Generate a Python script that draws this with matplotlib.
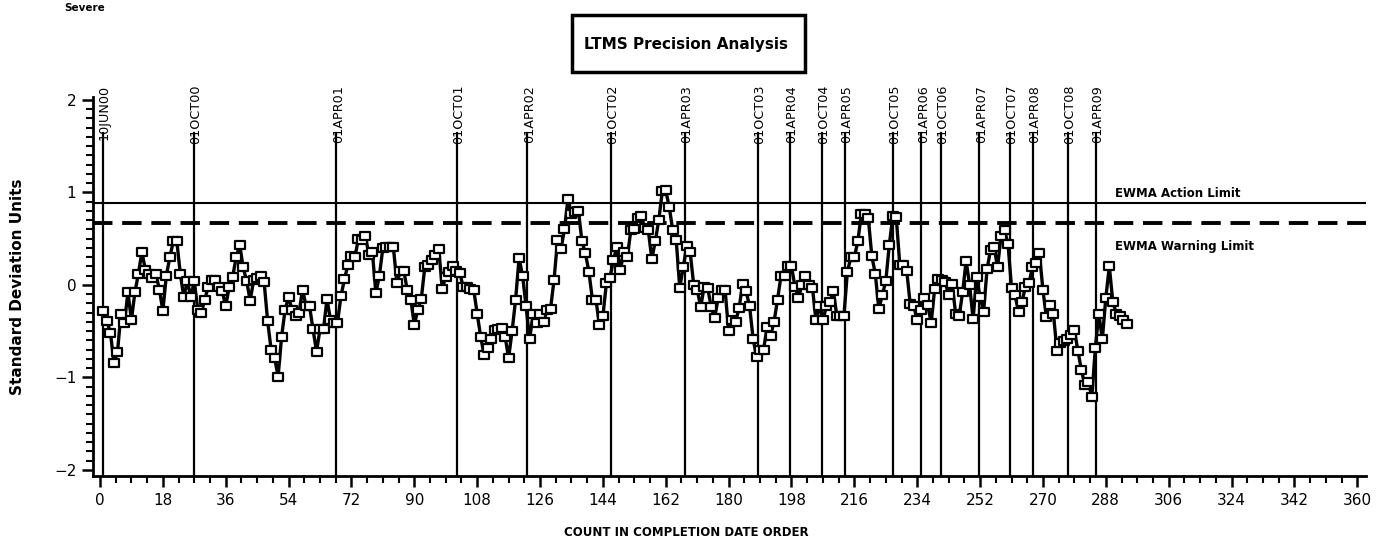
import matplotlib
matplotlib.use("Agg")
import matplotlib.pyplot as plt
from matplotlib.patches import Rectangle
from matplotlib.path import Path
import numpy as np

# ---------------- data ----------------
ewma = [
    -0.28, -0.39, -0.52, -0.84, -0.73, -0.31, -0.41, -0.08, -0.38, -0.08,
    0.12, 0.36, 0.16, 0.12, 0.07, 0.12, -0.05, -0.28, 0.10, 0.30,
    0.47, 0.47, 0.12, -0.13, 0.04, -0.13, 0.04, -0.27, -0.30, -0.16,
    -0.02, 0.05, 0.05, -0.02, -0.07, -0.23, -0.02, 0.09, 0.30, 0.43,
    0.19, 0.04, -0.17, 0.05, 0.07, 0.10, 0.03, -0.39, -0.70, -0.79,
    -0.99, -0.56, -0.27, -0.13, -0.27, -0.34, -0.30, -0.05, -0.23, -0.23,
    -0.48, -0.72, -0.48, -0.48, -0.15, -0.38, -0.41, -0.41, -0.12, 0.06,
    0.22, 0.31, 0.30, 0.50, 0.49, 0.53, 0.32, 0.35, -0.09, 0.10,
    0.40, 0.41, 0.41, 0.41, 0.02, 0.15, 0.15, -0.06, -0.16, -0.43,
    -0.27, -0.15, 0.19, 0.22, 0.27, 0.32, 0.39, -0.04, 0.09, 0.14,
    0.20, 0.15, 0.13, -0.02, -0.02, -0.04, -0.05, -0.31, -0.56, -0.76,
    -0.68, -0.58, -0.49, -0.48, -0.47, -0.56, -0.79, -0.50, -0.16, 0.29,
    0.10, -0.23, -0.59, -0.32, -0.41, -0.31, -0.40, -0.27, -0.26, 0.05,
    0.48, 0.39, 0.60, 0.93, 0.77, 0.79, 0.80, 0.47, 0.34, 0.14,
    -0.16, -0.16, -0.43, -0.34, 0.02, 0.07, 0.27, 0.41, 0.16, 0.36,
    0.30, 0.59, 0.60, 0.72, 0.74, 0.61, 0.59, 0.28, 0.47, 0.70,
    1.01, 1.02, 0.84, 0.59, 0.48, -0.03, 0.19, 0.42, 0.35, 0.00,
    -0.05, -0.24, -0.02, -0.03, -0.24, -0.36, -0.14, -0.06, -0.06, -0.50,
    -0.38, -0.40, -0.25, 0.01, -0.07, -0.23, -0.58, -0.78, -0.70, -0.70,
    -0.46, -0.55, -0.40, -0.16, 0.10, 0.10, 0.20, 0.20, -0.02, -0.14,
    0.00, 0.10, 0.00, -0.03, -0.38, -0.23, -0.38, -0.23, -0.18, -0.07,
    -0.34, -0.34, -0.34, 0.14, 0.30, 0.30, 0.47, 0.77, 0.77, 0.72,
    0.31, 0.12, -0.26, -0.11, 0.04, 0.43, 0.74, 0.73, 0.22, 0.21,
    0.15, -0.21, -0.23, -0.38, -0.27, -0.14, -0.22, -0.41, -0.04, 0.06,
    0.05, 0.03, -0.11, 0.01, -0.31, -0.34, -0.08, 0.26, 0.00, -0.37,
    0.08, -0.13, -0.29, 0.17, 0.38, 0.41, 0.19, 0.53, 0.59, 0.44,
    -0.03, -0.11, -0.29, -0.18, -0.02, 0.02, 0.19, 0.24, 0.34, -0.06,
    -0.35, -0.22, -0.31, -0.71, -0.63, -0.61, -0.58, -0.54, -0.49, -0.71,
    -0.92, -1.08, -1.05, -1.21, -0.68, -0.31, -0.59, -0.14, 0.20, -0.18,
    -0.31, -0.34, -0.38, -0.42,
]
counts = list(range(1, len(ewma) + 1))

date_labels = ["10JUN00", "01OCT00", "01APR01", "01OCT01", "01APR02", "01OCT02",
               "01APR03", "01OCT03", "01APR04", "01OCT04", "01APR05", "01OCT05",
               "01APR06", "01OCT06", "01APR07", "01OCT07", "01APR08", "01OCT08",
               "01APR09"]
date_counts = [0.8, 26.8, 67.7, 102.1, 122.4, 146.2, 167.4, 188.5, 197.5, 206.7,
               213.3, 227.0, 235.2, 240.7, 251.8, 260.6, 267.2, 277.1, 285.1]

action_limit = 0.883
warning_limit = 0.674
x_ticks = list(range(0, 361, 18))
y_ticks = [-2, -1, 0, 1, 2]
y_tick_labels = ["\u22122", "\u22121", "0", "1", "2"]

# ---------------- style ----------------
plt.rcParams["font.family"] = ["DejaVu Sans"]
plt.rcParams["lines.scale_dashes"] = False

rect_marker = Path([(-1.3, -1.0), (1.3, -1.0), (1.3, 1.0), (-1.3, 1.0), (-1.3, -1.0)],
                   [Path.MOVETO, Path.LINETO, Path.LINETO, Path.LINETO, Path.CLOSEPOLY])

fig = plt.figure(figsize=(13.76, 5.5), dpi=100)
ax = fig.add_axes([93 / 1376, 1 - 476 / 550, (1366 - 93) / 1376, (476 - 97) / 550])

ax.set_xlim(-2.0, 362.5)
ax.set_ylim(-2.065, 2.03)

# reference (date) lines
for c, lab in zip(date_counts, date_labels):
    ax.plot([c, c], [-2.065, 1.64], color="black", lw=1.6, zorder=1, clip_on=False)
    ax.text(c + 0.5, 2.16, lab, rotation=90, ha="center", va="top", fontsize=9.2,
            clip_on=False)

# limits
ax.axhline(action_limit, color="black", lw=1.5, zorder=1)
ax.axhline(warning_limit, color="black", lw=2.8, dashes=(14, 7), zorder=1)
ax.text(290.5, action_limit + 0.1, "EWMA Action Limit", fontsize=8.5,
        fontweight="bold", va="center", ha="left")
ax.text(290.5, warning_limit - 0.26, "EWMA Warning Limit", fontsize=8.5,
        fontweight="bold", va="center", ha="left")

# series
ax.plot(counts, ewma, color="black", lw=2.4, zorder=3,
        marker=rect_marker, markersize=6.8, markerfacecolor="white",
        markeredgecolor="black", markeredgewidth=1.6)

# axes styling
for s in ["top", "right"]:
    ax.spines[s].set_visible(False)
for s in ["left", "bottom"]:
    ax.spines[s].set_linewidth(2.0)

ax.set_xticks(x_ticks)
ax.set_xticks(np.arange(0, 361, 4.5), minor=True)
ax.set_yticks(y_ticks)
ax.set_yticklabels(y_tick_labels)
ax.set_yticks(np.arange(-2, 2.01, 0.1), minor=True)
ax.tick_params(axis="both", which="major", length=8, width=1.8, labelsize=11, pad=4)
ax.tick_params(axis="both", which="minor", length=5, width=1.5)

fig.text(686 / 1376, 1 - 532 / 550, "COUNT IN COMPLETION DATE ORDER", fontsize=8.5,
         fontweight="bold", ha="center", va="center")
fig.text(18 / 1376, 1 - 287 / 550, "Standard Deviation Units", fontsize=11,
         fontweight="bold", ha="center", va="center", rotation=90)

# title box
fig.patches.append(Rectangle((572 / 1376, 1 - 72 / 550), (805 - 572) / 1376, (72 - 15) / 550,
                             transform=fig.transFigure, fill=False, lw=2.5, edgecolor="black"))
fig.text(686 / 1376, 1 - 44 / 550, "LTMS Precision Analysis", fontsize=11, fontweight="bold",
         ha="center", va="center")
fig.text(64 / 1376, 1 - 8 / 550, "Severe", fontsize=7.5, fontweight="bold", ha="left",
         va="center")

fig.savefig("out.png", dpi=100)
